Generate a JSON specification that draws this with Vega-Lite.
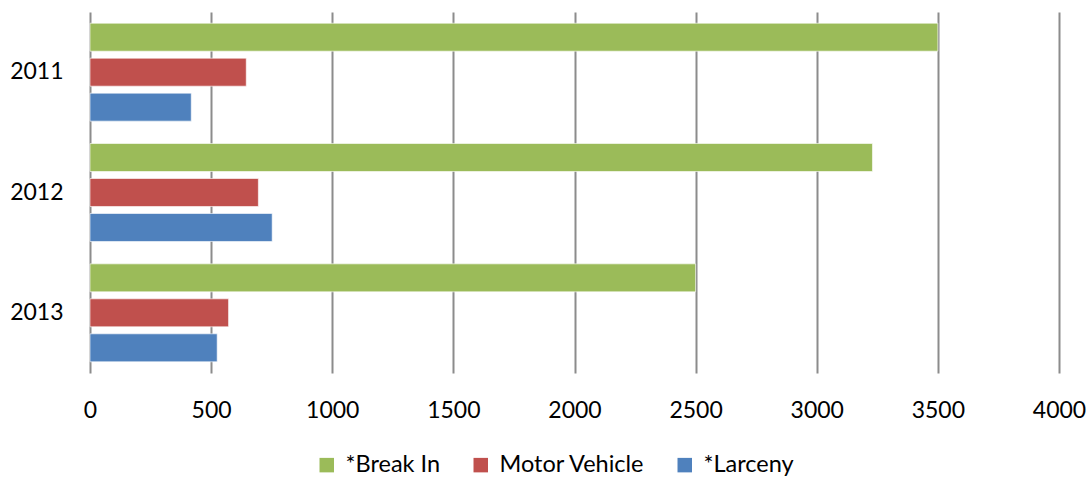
{
  "$schema": "https://vega.github.io/schema/vega-lite/v6.json",
  "width": 969,
  "height": 361,
  "autosize": "none",
  "padding": {"left": 90, "top": 12, "right": 30, "bottom": 105},
  "background": "white",
  "data": {
    "values": [
      {"year": "2011", "type": "*Break In", "value": 3500},
      {"year": "2011", "type": "Motor Vehicle", "value": 645},
      {"year": "2011", "type": "*Larceny", "value": 418},
      {"year": "2012", "type": "*Break In", "value": 3230},
      {"year": "2012", "type": "Motor Vehicle", "value": 695},
      {"year": "2012", "type": "*Larceny", "value": 752},
      {"year": "2013", "type": "*Break In", "value": 2500},
      {"year": "2013", "type": "Motor Vehicle", "value": 572},
      {"year": "2013", "type": "*Larceny", "value": 525}
    ]
  },
  "mark": {"type": "bar", "stroke": "white", "strokeOpacity": 0.6, "strokeWidth": 1},
  "encoding": {
    "y": {
      "field": "year", "type": "nominal", "title": null,
      "scale": {"paddingInner": 0, "paddingOuter": 0},
      "axis": {"domain": false, "ticks": false, "labelPadding": 27, "labelFont": "Lato", "labelFontSize": 23, "labelColor": "#000", "grid": false}
    },
    "yOffset": {
      "field": "type", "type": "nominal",
      "sort": ["*Break In", "Motor Vehicle", "*Larceny"],
      "scale": {"paddingInner": 0.2, "paddingOuter": 0.32}
    },
    "x": {
      "field": "value", "type": "quantitative", "title": null,
      "scale": {"domain": [0, 4000], "nice": false},
      "axis": {"values": [0, 500, 1000, 1500, 2000, 2500, 3000, 3500, 4000], "format": "d", "domain": false, "ticks": false, "grid": true, "gridColor": "#8c8c8c", "gridWidth": 2, "gridOpacity": 1, "labelPadding": 26, "labelFont": "Lato", "labelFontSize": 23, "labelColor": "#000", "labelFlush": false}
    },
    "color": {
      "field": "type", "type": "nominal",
      "sort": ["*Break In", "Motor Vehicle", "*Larceny"],
      "scale": {"domain": ["*Break In", "Motor Vehicle", "*Larceny"], "range": ["#9BBB59", "#C0504D", "#4F81BD"]},
      "legend": {
        "title": null, "orient": "none", "direction": "horizontal",
        "legendX": 225, "legendY": 441,
        "symbolType": "square", "symbolSize": 210, "symbolStrokeWidth": 0, "symbolOpacity": 1,
        "labelFont": "Lato", "labelFontSize": 23.5, "labelColor": "#000",
        "labelOffset": 7, "columnPadding": 28
      }
    }
  },
  "config": {"view": {"stroke": null}}
}
